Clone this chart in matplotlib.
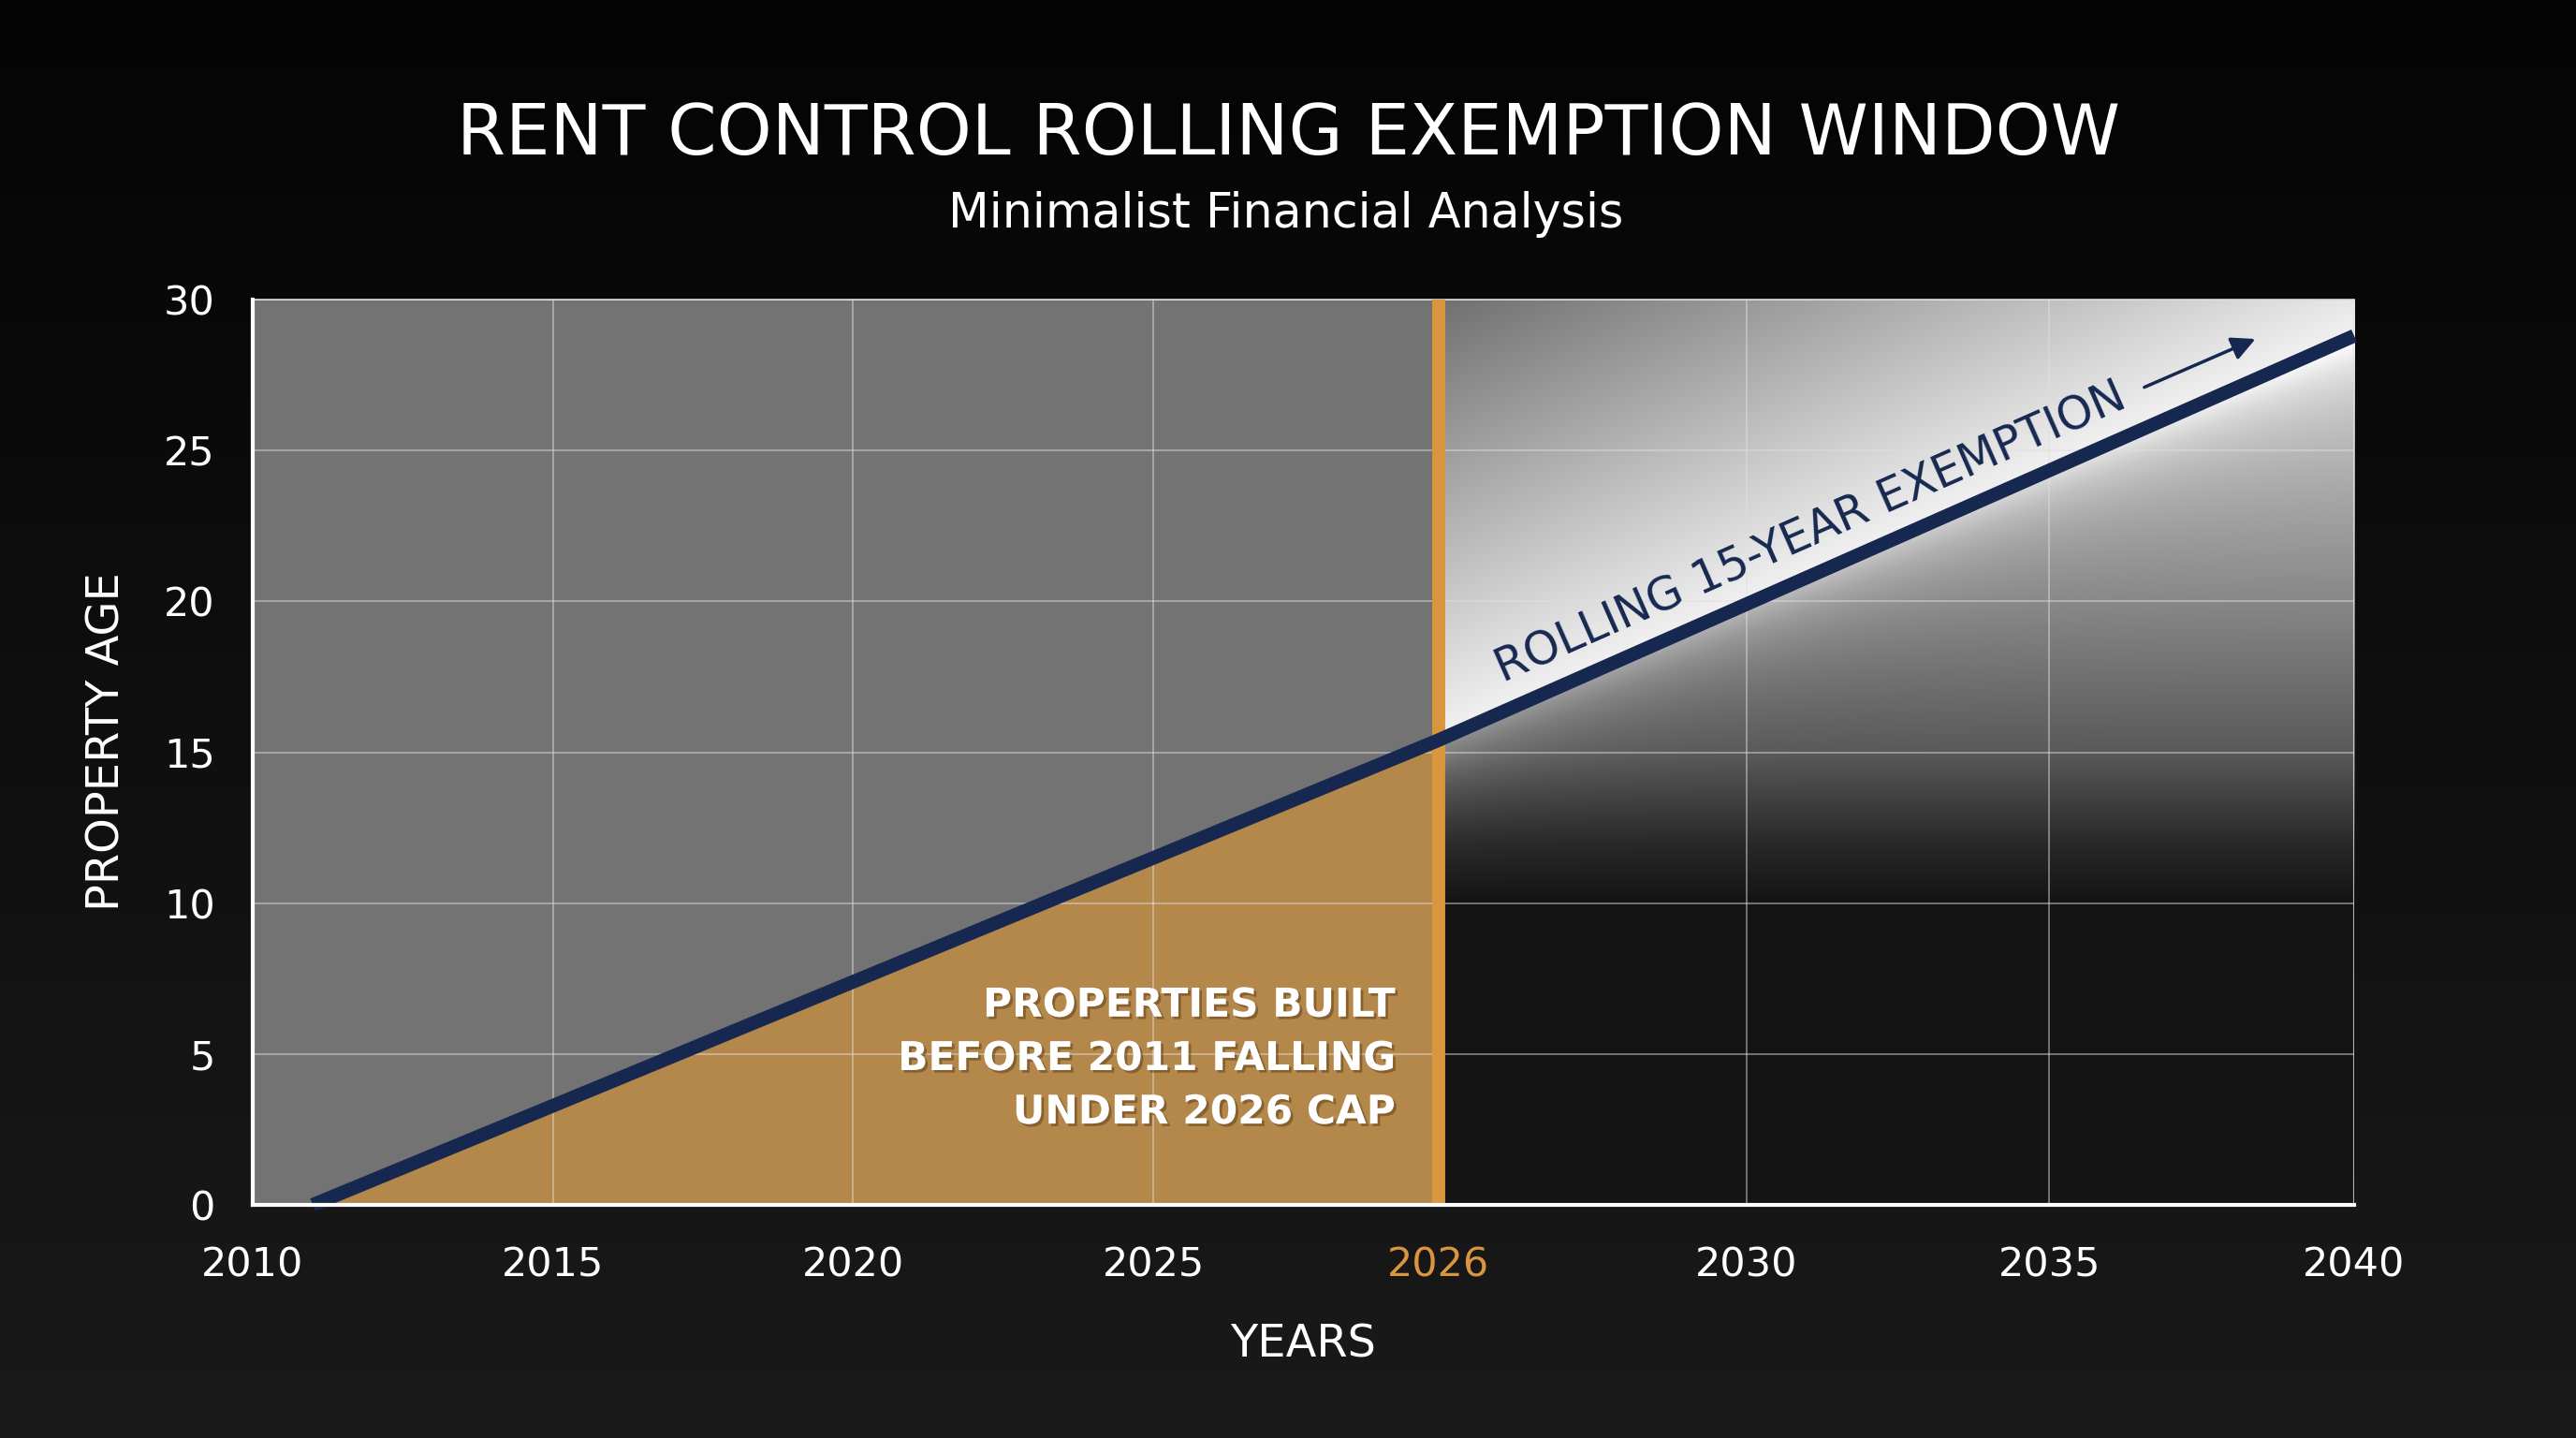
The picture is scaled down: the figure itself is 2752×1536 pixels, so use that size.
import numpy as np
import matplotlib
matplotlib.use("Agg")
import matplotlib.pyplot as plt
import matplotlib.patheffects as pe
from matplotlib.colors import LinearSegmentedColormap

# ---------------- data ----------------
tick_years = [2010, 2015, 2020, 2025, 2026, 2030, 2035, 2040]
age_ticks = [0, 5, 10, 15, 20, 25, 30]
line_years = [2011, 2026, 2040]
line_age = [0.0, 15.4, 28.8]
cap_year = 2026
title = "RENT CONTROL ROLLING EXEMPTION WINDOW"
subtitle = "Minimalist Financial Analysis"
note = "PROPERTIES BUILT\nBEFORE 2011 FALLING\nUNDER 2026 CAP"
band_label = "ROLLING 15-YEAR EXEMPTION"

# ---------------- style ----------------
NAVY = "#162850"
ORANGE = "#d9963e"
FILL = "#b4874a"
plt.rcParams["font.family"] = ["DejaVu Sans"]
tick_pos = [0, 1, 2, 3, 3.95, 4.975, 5.985, 7]   # label placement on the axis

W, H = 2752, 1536
fig = plt.figure(figsize=(W / 100, H / 100), dpi=100)

# figure background gradient
bg = fig.add_axes([0, 0, 1, 1], zorder=-10)
grad = np.linspace(0, 1, 256).reshape(-1, 1)
bg_cmap = LinearSegmentedColormap.from_list("bg", ["#040404", "#1a1a1a"])
bg.imshow(grad, aspect="auto", cmap=bg_cmap, extent=[0, 1, 0, 1], origin="upper")
bg.axis("off")

ax = fig.add_axes([270 / W, 1 - 1287 / H, (2515 - 270) / W, (1287 - 320) / H])
ax.set_facecolor("none")

def to_pos(years):
    return np.interp(years, tick_years, tick_pos)

cap_pos = float(to_pos(cap_year))
line_x = to_pos(line_years)
xmax = tick_pos[-1]

# left flat grey region
ax.axvspan(0, cap_pos, color="#737373", zorder=0, lw=0)

# right gradient region
gx = np.linspace(cap_pos, xmax, 400)
gy = np.linspace(0, 30, 600)
GX, GY = np.meshgrid(gx, gy)
LA = np.interp(GX, line_x, line_age)
d = GY - LA
above = np.clip(0.95 - 0.035 * d, 0, 1)
base = np.interp(GY, [0, 10, 12, 15, 20, 25, 30], [0.075, 0.075, 0.16, 0.35, 0.53, 0.70, 0.85])
below = np.clip(base + 0.22 * np.exp(d / 1.3), 0, 1)
val = np.where(d >= 0, above, below)
rgb = np.dstack([val, val, val])
ax.imshow(rgb, extent=[cap_pos, xmax, 0, 30], origin="lower", aspect="auto",
          zorder=0, interpolation="bilinear")

# orange fill under line, up to cap year
fx = np.linspace(line_x[0], cap_pos, 200)
fy = np.interp(fx, line_x, line_age)
ax.fill_between(fx, 0, fy, color=FILL, zorder=1, lw=0)

# grid
for xv in tick_pos[1:-1]:
    if xv == cap_pos:
        continue
    ax.axvline(xv, color="#e0e0e0", alpha=0.55, lw=1.2, zorder=2)
for yv in age_ticks[1:]:
    ax.axhline(yv, color="#e0e0e0", alpha=0.55, lw=1.2, zorder=2)
ax.axvline(xmax, color="#e0e0e0", alpha=0.8, lw=1.5, zorder=2)

# cap line
ax.axvline(cap_pos, color=ORANGE, lw=10, zorder=3)

# rolling line
ax.plot(line_x, line_age, color=NAVY, lw=10.5, solid_capstyle="butt", zorder=5, clip_on=False)

# axes
ax.set_xlim(0, xmax)
ax.set_ylim(0, 30)
ax.set_xticks(tick_pos)
ax.set_xticklabels([str(y) for y in tick_years])
ax.set_yticks(age_ticks)
ax.tick_params(axis="both", length=0, colors="white", labelsize=31)
ax.tick_params(axis="x", pad=31)
ax.tick_params(axis="y", pad=29)
for lab, yr in zip(ax.get_xticklabels(), tick_years):
    if yr == cap_year:
        lab.set_color(ORANGE)
for s in ["left", "bottom"]:
    ax.spines[s].set_color("white")
    ax.spines[s].set_linewidth(3)
    ax.spines[s].set_zorder(6)
ax.spines["top"].set_color("#dddddd")
ax.spines["top"].set_linewidth(1.2)
ax.spines["right"].set_visible(False)

ax.set_ylabel("PROPERTY AGE", color="white", fontsize=34.5, va="center")
ax.yaxis.set_label_coords(-0.0695, 0.512)
ax.set_xlabel("YEARS", color="white", fontsize=34.5, va="center")
ax.xaxis.set_label_coords(0.5, -0.154)

# titles
fig.text(0.5, 1 - 165 / H, title, color="white", fontsize=54, ha="center", va="baseline")
fig.text(0.4993, 1 - 243 / H, subtitle, color="white", fontsize=36.5, ha="center", va="baseline")

# note in orange region
shadow = [pe.withSimplePatchShadow(offset=(2, -2), shadow_rgbFace="#5a3d15", alpha=0.5)]
ax.text(3.807, 4.84, note, color="white", fontsize=30.5, fontweight="bold",
        ha="right", va="center", multialignment="right", linespacing=1.46,
        zorder=7, path_effects=shadow)

# rotated band label
ax.text(5.19, 22.27, band_label, color=NAVY, fontsize=35, rotation=23.8,
        rotation_mode="anchor", ha="center", va="center", zorder=7)
ax.annotate("", xy=(6.679, 28.73), xytext=(6.293, 27.06),
            arrowprops=dict(arrowstyle="-|>", color=NAVY, lw=2.5, mutation_scale=38),
            zorder=7)

fig.savefig("out.png", dpi=100)
